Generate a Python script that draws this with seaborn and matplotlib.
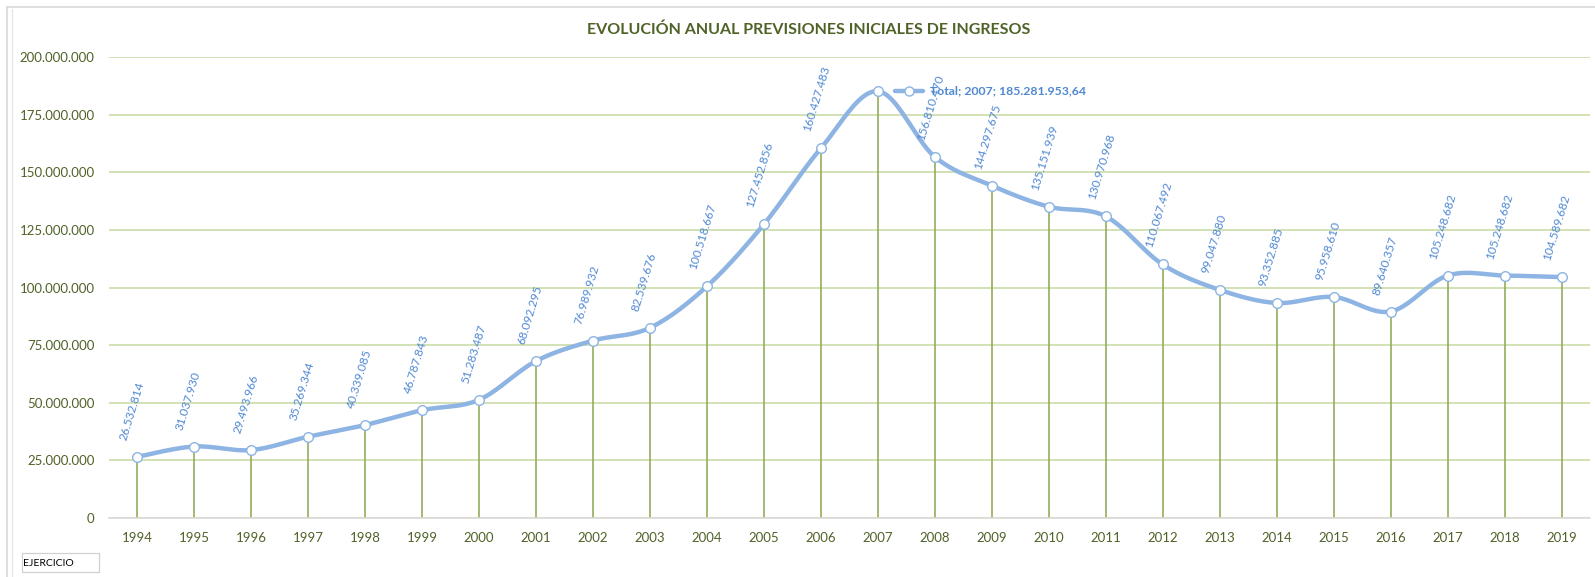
import numpy as np
import seaborn as sns
import matplotlib.pyplot as plt
from matplotlib.lines import Line2D
from matplotlib.patches import Rectangle
from matplotlib.ticker import FuncFormatter, MultipleLocator

# data
years = [1994, 1995, 1996, 1997, 1998, 1999, 2000, 2001, 2002, 2003, 2004, 2005, 2006,
         2007, 2008, 2009, 2010, 2011, 2012, 2013, 2014, 2015, 2016, 2017, 2018, 2019]
totals = [26532814, 31037930, 29493966, 35269344, 40339085, 46787843, 51283487,
          68092295, 76989932, 82539676, 100518667, 127452856, 160427483,
          185281953.64, 156810470, 144297675, 135151939, 130970968, 110067492,
          99047880, 93352885, 95958610, 89640357, 105248682, 105248682, 104589682]
highlight_year = 2007

title = "EVOLUCIÓN ANUAL PREVISIONES INICIALES DE INGRESOS"
axis_name = "EJERCICIO"

# colours
olive = "#4F6228"
grid_green = "#C6D9A0"
stem_green = "#93AD5A"
line_blue = "#8DB4E2"
label_blue = "#4F88D3"


def fmt_miles(v, pos=None):
    # spanish thousands separator
    return f"{v:,.0f}".replace(",", ".")


def smooth_curve(xv, yv, steps=24):
    # excel-like smoothed line (bezier through every point)
    px = np.asarray(xv, dtype=float)
    py = np.asarray(yv, dtype=float)
    n = len(px)
    out_x, out_y = [], []
    t = np.linspace(0, 1, steps)
    for i in range(n - 1):
        i0, i2 = max(i - 1, 0), min(i + 2, n - 1)
        b0 = np.array([px[i], py[i]])
        b3 = np.array([px[i + 1], py[i + 1]])
        b1 = b0 + (np.array([px[i + 1], py[i + 1]]) - np.array([px[i0], py[i0]])) / 6
        b2 = b3 - (np.array([px[i2], py[i2]]) - np.array([px[i], py[i]])) / 6
        seg = (np.outer((1 - t) ** 3, b0) + np.outer(3 * (1 - t) ** 2 * t, b1)
               + np.outer(3 * (1 - t) * t ** 2, b2) + np.outer(t ** 3, b3))
        out_x.extend(seg[:, 0])
        out_y.extend(seg[:, 1])
    return np.array(out_x), np.array(out_y)


sns.set_style("white")
plt.rcParams["font.family"] = ["Lato", "DejaVu Sans"]

W, H = 1595, 577
fig = plt.figure(figsize=(W / 100, H / 100), dpi=100, facecolor="white")
ax = fig.add_axes([108.5 / W, 59 / H, 1481.5 / W, 460.7 / H])

idx = np.arange(len(years))

# stems
ax.vlines(idx, 0, totals, color=stem_green, linewidth=1.2, zorder=2)

# smoothed line
sx, sy = smooth_curve(idx, totals)
sns.lineplot(x=sx, y=sy, sort=False, estimator=None, ax=ax, color=line_blue,
             linewidth=3.2, zorder=3)

# markers
sns.scatterplot(x=idx, y=totals, ax=ax, s=48, color="white", edgecolor=line_blue,
                linewidth=1.0, zorder=4)

ax.set_xlim(-0.5, len(years) - 0.5)
ax.set_ylim(0, 200_000_000)

# axes styling
ax.yaxis.set_major_locator(MultipleLocator(25_000_000))
ax.yaxis.set_major_formatter(FuncFormatter(fmt_miles))
ax.grid(axis="y", color=grid_green, linewidth=1.1)
ax.grid(axis="x", visible=False)
ax.set_axisbelow(True)
for side in ["top", "right", "left"]:
    ax.spines[side].set_visible(False)
ax.spines["bottom"].set_color("#D9D9D9")
ax.spines["bottom"].set_linewidth(1.1)
ax.spines["bottom"].set_zorder(2.5)

ax.set_xticks(idx)
ax.set_xticklabels([str(y) for y in years])
ax.set_xticks(np.arange(-0.5, len(years)), minor=True)
ax.tick_params(axis="x", which="major", length=0, pad=10, labelsize=9.5, labelcolor=olive)
ax.tick_params(axis="x", which="minor", length=4, width=1.0, color="#D9D9D9", direction="out")
ax.tick_params(axis="y", length=0, pad=10, labelsize=9.5, labelcolor=olive)
ax.set_xlabel("")
ax.set_ylabel("")

# data labels
for i, (yr, v) in enumerate(zip(years, totals)):
    if yr == highlight_year:
        continue
    ax.annotate(fmt_miles(v), (i, v), xytext=(-11, 16), textcoords="offset pixels",
                rotation=73, rotation_mode="anchor", ha="left", va="baseline",
                fontsize=8.6, color=label_blue, zorder=5, annotation_clip=False)

# highlighted label with its legend key
hi = years.index(highlight_year)
fig.canvas.draw()
mx, my = ax.transData.transform((hi, totals[hi]))
fig.add_artist(Line2D([mx + 17, mx + 45], [my, my], transform=None, color=line_blue,
                      linewidth=3.2, zorder=6))
fig.add_artist(Line2D([mx + 31], [my], transform=None, marker="o", markersize=6.5,
                      markerfacecolor="white", markeredgecolor=line_blue,
                      markeredgewidth=1.0, zorder=7))
ax.annotate(f"Total; {highlight_year}; " + f"{totals[hi]:,.2f}".replace(",", "X").replace(".", ",").replace("X", "."),
            (hi, totals[hi]), xytext=(52, 0), textcoords="offset pixels",
            ha="left", va="center", fontsize=8.8, fontweight="bold", color=label_blue,
            zorder=8, annotation_clip=False)

# title
fig.text(809 / W, 1 - 30 / H, title, ha="center", va="center", fontsize=11.5,
         fontweight="bold", color=olive)

# chart frame
fig.add_artist(Line2D([7 / W, 1], [1 - 7 / H, 1 - 7 / H], transform=fig.transFigure,
                      color="#D9D9D9", linewidth=1.2))
fig.add_artist(Line2D([7 / W, 7 / W], [0, 1 - 7 / H], transform=fig.transFigure,
                      color="#D9D9D9", linewidth=1.2))
fig.add_artist(Line2D([11.5 / W, 11.5 / W], [0, 1 - 9 / H], transform=fig.transFigure,
                      color="#E6E6E6", linewidth=1.0))

# axis field button
fig.add_artist(Rectangle((22 / W, 1 - 572 / H), 77 / W, 19 / H, transform=fig.transFigure,
                         facecolor="white", edgecolor="#D0D0D0", linewidth=0.9))
fig.text(23.5 / W, 1 - 563 / H, axis_name, ha="left", va="center", fontsize=7.5,
         color="black")

plt.savefig("out.png", dpi=100, facecolor="white")
plt.close("all")
